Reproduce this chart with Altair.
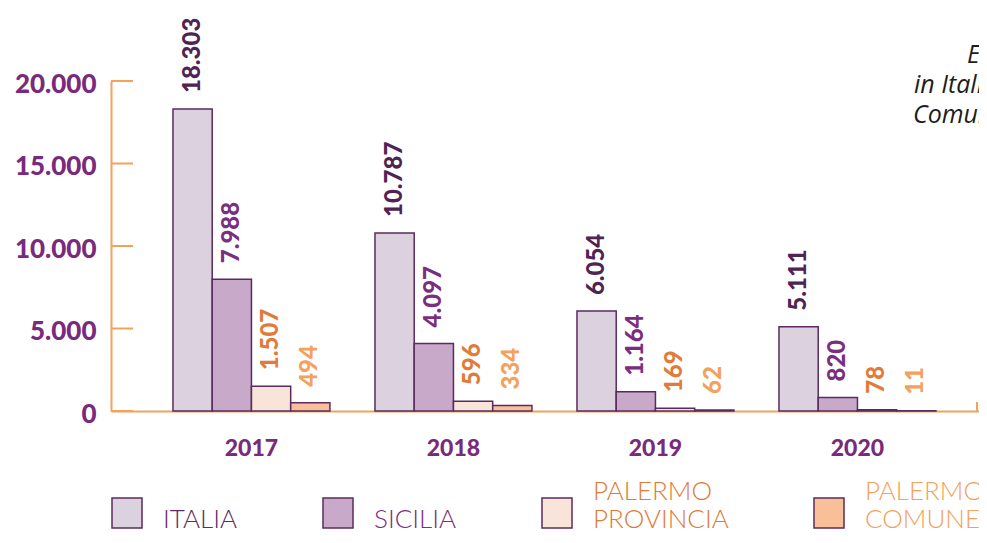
import altair as alt
import pandas as pd

years = ["2017", "2018", "2019", "2020"]
series = ["ITALIA", "SICILIA", "PALERMO PROVINCIA", "PALERMO COMUNE"]
italia = [18303, 10787, 6054, 5111]
sicilia = [7988, 4097, 1164, 820]
provincia = [1507, 596, 169, 78]
comune = [494, 334, 62, 11]
y_ticks = [0, 5000, 10000, 15000, 20000]
title_lines = [
    "Evoluzione dei MSNA presenti",
    "in Italia, in Sicilia, nella Provincia e nel",
    "Comune di Palermo",
]

bar_fill = ["#dcd1df", "#c9a9ca", "#f8e4d8", "#f8bf98"]
label_colors = ["#4f2353", "#7b2d7f", "#e07b39", "#f4a15e"]
legend_label_colors = ["#5e2b63", "#7b2d7f", "#e07b39", "#f4a15e"]
ORANGE = "#f4a15e"
PURPLE = "#7a2a7d"
STROKE = "#5b2b5f"
W = 868
H = 330

rows = []
for s, vals in zip(series, [italia, sicilia, provincia, comune]):
    for yr, v in zip(years, vals):
        rows.append({"year": yr, "series": s, "value": v})
df = pd.DataFrame(rows)

fmt = "replace(format(datum.value, ','), ',', '.')"

color_expr = " : ".join(
    f"datum.value == '{s}' ? '{c}'" for s, c in zip(series[:-1], legend_label_colors[:-1])
) + f" : '{legend_label_colors[-1]}'"

x_enc = alt.X(
    "year:N", sort=years, title=None,
    scale=alt.Scale(paddingInner=0.223, paddingOuter=0.26, align=0.59),
    axis=alt.Axis(labelFont="Lato", labelFontWeight=900, labelFontSize=23,
                  labelColor=PURPLE, labelPadding=26, ticks=False,
                  domainColor=ORANGE, domainWidth=2, labelAngle=0),
)
xo_enc = alt.XOffset("series:N", sort=series, scale=alt.Scale(paddingInner=0, paddingOuter=0))
y_axis = alt.Axis(values=y_ticks, labelExpr=fmt, ticks=False, grid=False,
                  domainColor=ORANGE, domainWidth=2, labelFont="Lato",
                  labelFontWeight=900, labelFontSize=26, labelColor=PURPLE,
                  labelPadding=15, labelOffset=3)
y_scale = alt.Scale(domain=[0, 20000], nice=False)
y_enc = alt.Y("value:Q", title=None, scale=y_scale, axis=y_axis)

bars = alt.Chart(df).mark_bar(stroke=STROKE, strokeWidth=1.5).encode(
    x=x_enc, xOffset=xo_enc, y=y_enc,
    fill=alt.Fill(
        "series:N", sort=series,
        scale=alt.Scale(domain=series, range=bar_fill),
        legend=alt.Legend(
            title=None, orient="bottom", direction="horizontal",
            symbolType="M-1,0.4H1V2.4H-1Z", symbolSize=900,
            symbolStrokeColor=STROKE, symbolStrokeWidth=1.5,
            labelFont="Lato", labelFontWeight=300, labelFontSize=26,
            labelOffset=20, labelLimit=400,
            labelExpr="indexof(datum.label, ' ') > 0 ? split(datum.label, ' ') : ['', datum.label]",
            labelColor={"expr": color_expr},
            columnPadding=82, offset=16,
        ),
    ),
)

labels = alt.Chart(df).transform_calculate(label=fmt).mark_text(
    angle=270, align="left", baseline="middle", dx=16,
    font="Lato", fontWeight=900, fontSize=24,
).encode(
    x=x_enc, xOffset=xo_enc, y=y_enc,
    text="label:N",
    color=alt.Color("series:N", scale=alt.Scale(domain=series, range=label_colors), legend=None),
)

ticks = alt.Chart(pd.DataFrame({"t": y_ticks})).mark_rule(color=ORANGE, strokeWidth=2).encode(
    y=alt.Y("t:Q", title=None, scale=y_scale, axis=y_axis), x=alt.value(0), x2=alt.value(22)
)

end_tick = alt.Chart(pd.DataFrame({"a": [0]})).mark_rule(color=ORANGE, strokeWidth=2).encode(
    x=alt.value(W - 2), y=alt.value(H - 9), y2=alt.value(H + 1)
)

title_layers = []
for line, xv, yv in zip(title_lines, [856, 803, 802], [-18, 12, 42]):
    title_layers.append(
        alt.Chart(pd.DataFrame({"t": [line]})).mark_text(
            align="left", baseline="alphabetic", font="Open Sans", fontStyle="italic",
            fontSize=25, color="#1d1d1b",
        ).encode(text="t:N", x=alt.value(xv), y=alt.value(yv))
    )

chart = alt.layer(bars, labels, ticks, end_tick, *title_layers).properties(
    width=W, height=H,
    autosize=alt.AutoSizeParams(type="none"),
    padding={"left": 103, "top": 73, "right": 0, "bottom": 124},
).configure_view(stroke=None)

chart.save("out.html", embed_options={"renderer": "svg", "actions": False})
